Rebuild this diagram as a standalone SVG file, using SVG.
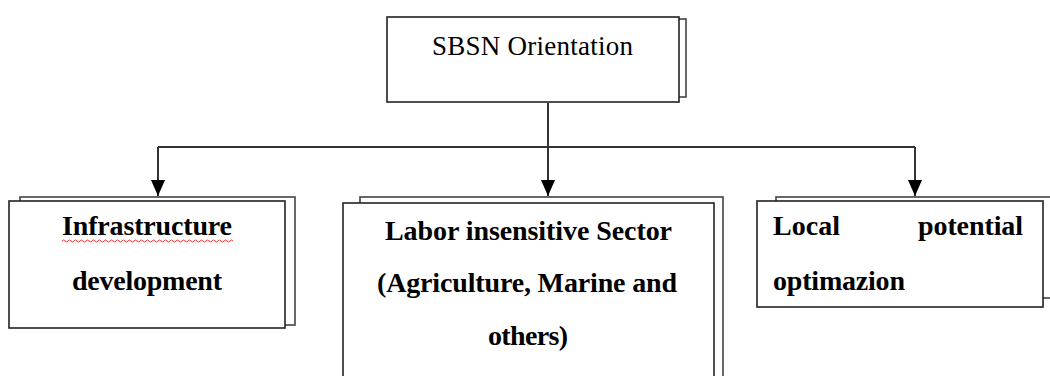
<svg xmlns="http://www.w3.org/2000/svg" width="1050" height="376" viewBox="0 0 1050 376">
<style>
.back{fill:#fff;stroke:#444;stroke-width:1.6}
.front{fill:#fff;stroke:#222;stroke-width:1.6}
.lbl{font-family:"Liberation Serif","Times New Roman",serif;font-size:28px;fill:#000}
.reg{font-size:27px}
.b{font-weight:bold}
.conn{stroke:#333;stroke-width:2;fill:none}
</style>
<defs>
<marker id="arr" viewBox="0 0 16 14" refX="16" refY="7" markerWidth="16" markerHeight="14" markerUnits="userSpaceOnUse" orient="auto">
<path d="M0,0 L16,7 L0,14 Z" fill="#000"/>
</marker>
</defs>
<rect width="1050" height="376" fill="#fff"/>
<g id="connectors">
<path class="conn" d="M548,103 V147"/>
<path class="conn" d="M158,147 H915"/>
<path class="conn" d="M548,147 V196" marker-end="url(#arr)"/>
<path class="conn" d="M158,147 V196" marker-end="url(#arr)"/>
<path class="conn" d="M915,147 V196" marker-end="url(#arr)"/>
</g>
<g id="node-sbsn">
<rect class="back" x="394" y="19" width="292" height="78"/>
<rect class="front" x="387" y="17" width="292" height="85"/>
<text class="lbl reg" x="432" y="55" textLength="201" lengthAdjust="spacing">SBSN Orientation</text>
</g>
<g id="node-infra">
<rect class="back" x="20" y="197" width="275" height="128"/>
<rect class="front" x="9" y="201" width="276" height="127"/>
<text class="lbl b" x="62" y="235" textLength="170" lengthAdjust="spacing">Infrastructure</text>
<path d="M62,241 q1.5,-2 3,0 t3,0 t3,0 t3,0 t3,0 t3,0 t3,0 t3,0 t3,0 t3,0 t3,0 t3,0 t3,0 t3,0 t3,0 t3,0 t3,0 t3,0 t3,0 t3,0 t3,0 t3,0 t3,0 t3,0 t3,0 t3,0 t3,0 t3,0 t3,0 t3,0 t3,0 t3,0 t3,0 t3,0 t3,0 t3,0 t3,0 t3,0 t3,0 t3,0 t3,0 t3,0 t3,0 t3,0 t3,0 t3,0 t3,0 t3,0 t3,0 t3,0 t3,0 t3,0 t3,0 t3,0 t3,0 t3,0 t3,0" fill="none" stroke="#e33" stroke-width="1"/>
<text class="lbl b" x="72" y="290" textLength="150" lengthAdjust="spacing">development</text>
</g>
<g id="node-labor">
<rect class="back" x="360" y="197" width="363" height="190"/>
<rect class="front" x="343" y="203" width="371" height="190"/>
<text class="lbl b" x="385" y="240" textLength="287" lengthAdjust="spacing">Labor insensitive Sector</text>
<text class="lbl b" x="377" y="292" textLength="300" lengthAdjust="spacing">(Agriculture, Marine and</text>
<text class="lbl b" x="488" y="345" textLength="80" lengthAdjust="spacing">others)</text>
</g>
<g id="node-local">
<rect class="back" x="776" y="197" width="290" height="101"/>
<rect class="front" x="757" y="201" width="286" height="106"/>
<text class="lbl b" x="773" y="235" textLength="67" lengthAdjust="spacing">Local</text>
<text class="lbl b" x="918" y="235" textLength="105" lengthAdjust="spacing">potential</text>
<text class="lbl b" x="773" y="290" textLength="132" lengthAdjust="spacing">optimazion</text>
</g>
</svg>
